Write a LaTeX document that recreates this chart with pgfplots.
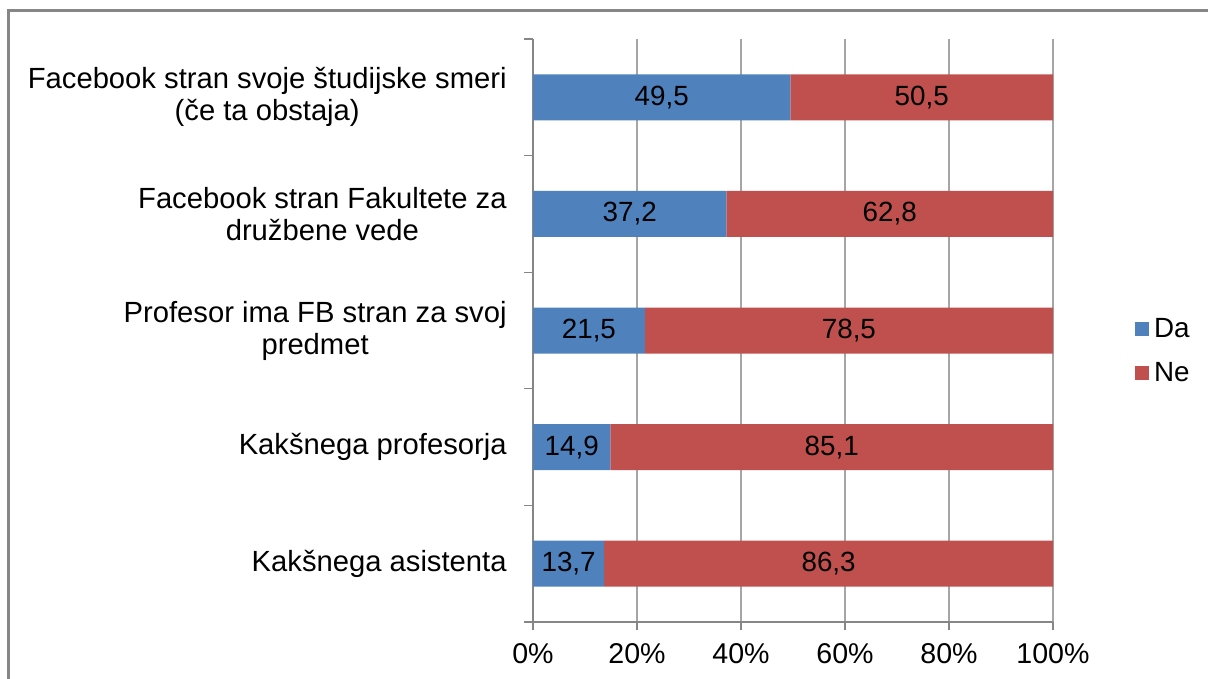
\documentclass[border=0pt]{standalone}
\usepackage{fontspec}
\setmainfont{Liberation Sans}
\usepackage{pgfplots}
\usepackage{pgfplotstable}
\pgfplotsset{compat=1.18}
\definecolor{cda}{HTML}{4F81BD}
\definecolor{cne}{HTML}{C0504D}
\definecolor{gridc}{HTML}{A6A6A6}
\definecolor{axc}{HTML}{868686}
\newcommand{\chf}{\fontsize{13.9bp}{16bp}\selectfont}
\newcommand{\ylf}{\fontsize{14.6bp}{16bp}\selectfont}
\newcommand{\xlf}{\fontsize{14.3bp}{16bp}\selectfont}

\pgfplotstableread{
y da ne
5 49.5 50.5
4 37.2 62.8
3 21.5 78.5
2 14.9 85.1
1 13.7 86.3
}\data

\begin{document}
\begin{tikzpicture}
\path[use as bounding box] (0,0) rectangle (604bp,-339.5bp);
\draw[axc, line width=1.5bp] (4bp,-339.5bp) -- (4bp,-5bp) -- (604bp,-5bp);
\begin{axis}[
  at={(266.5bp,-311bp)}, anchor=south west,
  scale only axis, width=260bp, height=291.5bp,
  xbar stacked, bar width=23bp,
  xmin=0, xmax=100, ymin=0.5, ymax=5.5,
  axis x line*=bottom, axis y line*=left,
  axis line style={-, draw=axc, line width=0.6bp},
  tick align=outside,
  xtick={0,20,...,100}, xticklabels={0\%,20\%,40\%,60\%,80\%,100\%},
  xmajorgrids, grid style={gridc, line width=0.6bp},
  major tick length=4bp, minor tick length=4.5bp,
  major x tick style={draw=axc, line width=0.6bp},
  major y tick style={draw=none},
  minor y tick style={draw=axc, line width=0.6bp},
  ytick={1,2,3,4,5},
  minor ytick={0.5,1.5,...,5.5},
  yticklabels={Kakšnega asistenta, Kakšnega profesorja, {Profesor ima FB stran za svoj\\predmet}, {Facebook stran Fakultete za\\družbene vede}, {Facebook stran svoje študijske smeri\\(če ta obstaja)}},
  yticklabel style={align=center, anchor=east, inner sep=0pt, xshift=-9bp, font=\ylf},
  xticklabel style={font=\xlf, yshift=-3bp},
  /pgf/number format/assume math mode=true,
  /pgf/number format/use comma,
  /pgf/number format/fixed, /pgf/number format/fixed zerofill, /pgf/number format/precision=1,
  legend style={at={(1.157,0.4646)}, anchor=west, draw=none, fill=none, font=\chf, row sep=11bp, inner sep=0pt, nodes={inner sep=0pt, xshift=3.5bp}},
  legend cell align=left,
]
\addplot[fill=cda, draw=none,
  point meta=\thisrow{da},
  nodes near coords,
  every node near coord/.append style={font=\chf, text=black, anchor=center},
  legend image code/.code={\fill[cda] (-3.5bp,-3.5bp) rectangle (3.5bp,3.5bp);}
] table[x=da, y=y] {\data};
\addlegendentry{\hspace{2.5bp}Da}
\addplot[fill=cne, draw=none,
  point meta=\thisrow{ne},
  nodes near coords,
  every node near coord/.append style={font=\chf, text=black, anchor=center},
  legend image code/.code={\fill[cne] (-3.5bp,-3.5bp) rectangle (3.5bp,3.5bp);}
] table[x=ne, y=y] {\data};
\addlegendentry{\hspace{2.5bp}Ne}
\end{axis}
\end{tikzpicture}
\end{document}
